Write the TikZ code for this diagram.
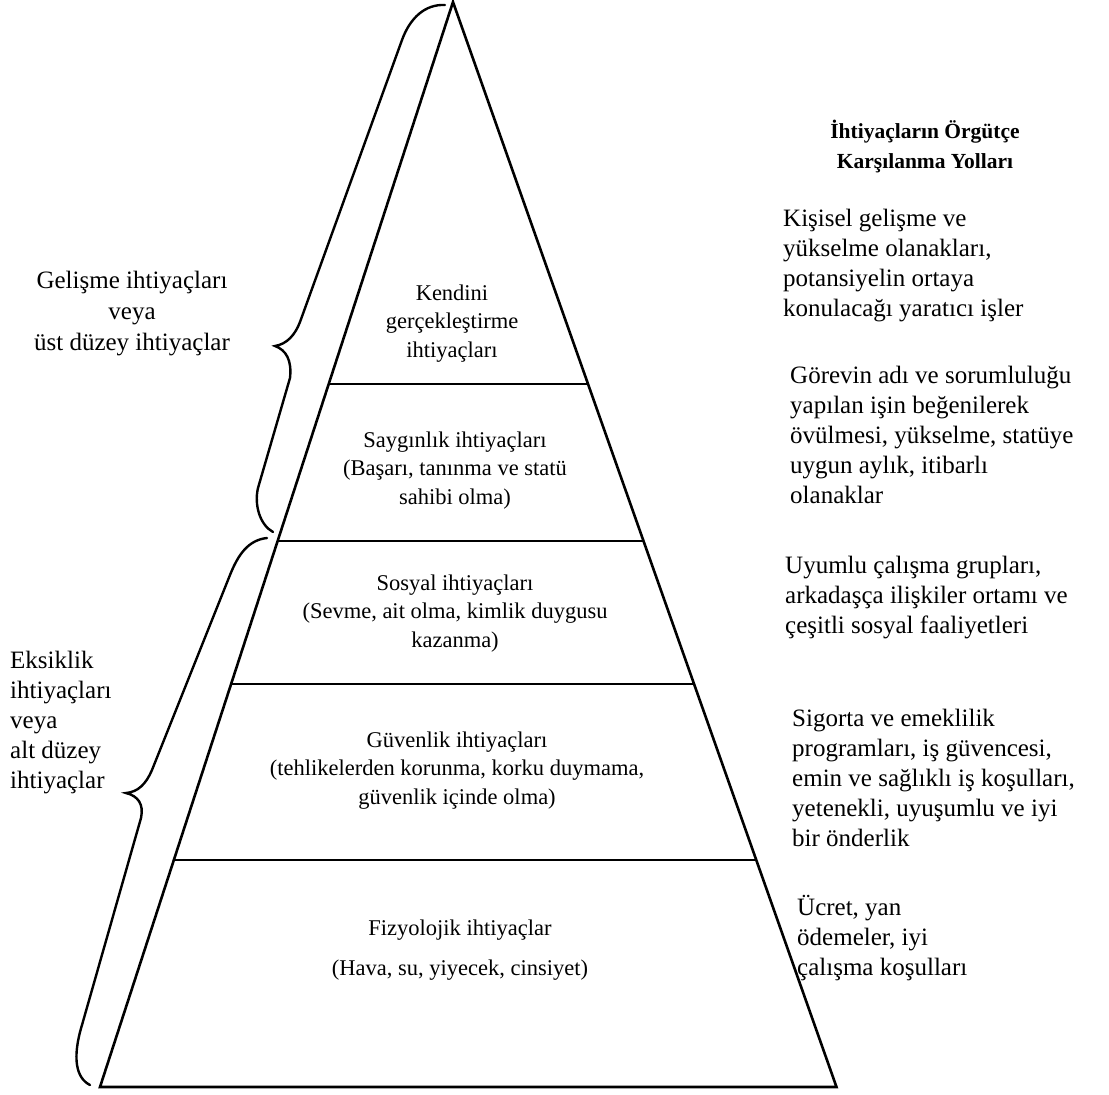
\documentclass[tikz,border=0pt]{standalone}
\usepackage{fontspec}
\setmainfont{Liberation Serif}
\usetikzlibrary{calc}
\begin{document}
\begin{tikzpicture}[x=1pt,y=-1pt,
  edge/.style={line width=2.6pt, line join=miter},
  brace/.style={line width=2.4pt, line cap=round},
  pyr/.style={font=\fontsize{22.5}{28.5}\selectfont, align=center, anchor=base, inner sep=0pt},
  side/.style={font=\fontsize{25}{30}\selectfont, align=left, anchor=base west, inner sep=0pt},
  sidec/.style={font=\fontsize{25}{31}\selectfont, align=center, anchor=base, inner sep=0pt},
  title/.style={font=\fontsize{21.5}{30}\selectfont\bfseries, align=center, anchor=base, inner sep=0pt}]
\useasboundingbox (0,0) rectangle (1109,1095);

% pyramid
\coordinate (apex) at (453,2);
\coordinate (bl) at (100,1087);
\coordinate (br) at (836.5,1087);
\draw[edge] (apex) -- (bl) -- (br) -- cycle;
\coordinate (l1) at ($(apex)!0.3521!(bl)$);
\coordinate (r1) at ($(apex)!0.3521!(br)$);
\coordinate (l2) at ($(apex)!0.4968!(bl)$);
\coordinate (r2) at ($(apex)!0.4968!(br)$);
\coordinate (l3) at ($(apex)!0.6286!(bl)$);
\coordinate (r3) at ($(apex)!0.6286!(br)$);
\coordinate (l4) at ($(apex)!0.7908!(bl)$);
\coordinate (r4) at ($(apex)!0.7908!(br)$);
\draw[edge] (l1) -- (r1);
\draw[edge] (l2) -- (r2);
\draw[edge] (l3) -- (r3);
\draw[edge] (l4) -- (r4);

% pyramid texts (anchor = baseline of last line)
\node[pyr] (kendini) at (452,357) {Kendini\\gerçekleştirme\\ihtiyaçları};
\node[pyr] (saygi) at (455,504) {Saygınlık ihtiyaçları\\(Başarı, tanınma ve statü\\sahibi olma)};
\node[pyr] (sosyal) at (455,647) {Sosyal ihtiyaçları\\(Sevme, ait olma, kimlik duygusu\\kazanma)};
\node[pyr] (guven) at (457,804) {Güvenlik ihtiyaçları\\(tehlikelerden korunma, korku duymama,\\güvenlik içinde olma)};
\node[pyr] (fizyo) at (460,975) {Fizyolojik ihtiyaçlar\\[11pt](Hava, su, yiyecek, cinsiyet)};

% braces
\draw[brace] (445,5) .. controls (425,4) and (410,18) .. (402,40)
  -- (300,322) .. controls (295,335) and (287,344) .. (275,346)
  .. controls (286,350) and (292,360) .. (290,378)
  -- (258,488) .. controls (254,505) and (260,525) .. (273,532);
\draw[brace] (267,538) .. controls (248,540) and (238,555) .. (230,575)
  -- (152,770) .. controls (146,784) and (138,792) .. (126,793)
  .. controls (138,796) and (144,804) .. (141,818)
  -- (82,1025) .. controls (72,1058) and (76,1078) .. (90,1085);

% left texts
\node[sidec] (gelisme) at (132,350) {Gelişme ihtiyaçları\\veya\\üst düzey ihtiyaçlar};
\node[side] (eksik) at (10,788) {Eksiklik\\ihtiyaçları\\veya\\alt düzey\\ihtiyaçlar};

% right texts
\node[title] (baslik) at (925,168) {İhtiyaçların Örgütçe\\Karşılanma Yolları};
\node[side] (kisisel) at (783,316) {Kişisel gelişme ve\\yükselme olanakları,\\potansiyelin ortaya\\konulacağı yaratıcı işler};
\node[side] (gorev) at (790,503) {Görevin adı ve sorumluluğu\\yapılan işin beğenilerek\\övülmesi, yükselme, statüye\\uygun aylık, itibarlı\\olanaklar};
\node[side] (uyum) at (785,633) {Uyumlu çalışma grupları,\\arkadaşça ilişkiler ortamı ve\\çeşitli sosyal faaliyetleri};
\node[side] (sigorta) at (792,846) {Sigorta ve emeklilik\\programları, iş güvencesi,\\emin ve sağlıklı iş koşulları,\\yetenekli, uyuşumlu ve iyi\\bir önderlik};
\node[side] (ucret) at (797,975) {Ücret, yan\\ödemeler, iyi\\çalışma koşulları};
\end{tikzpicture}
\end{document}
